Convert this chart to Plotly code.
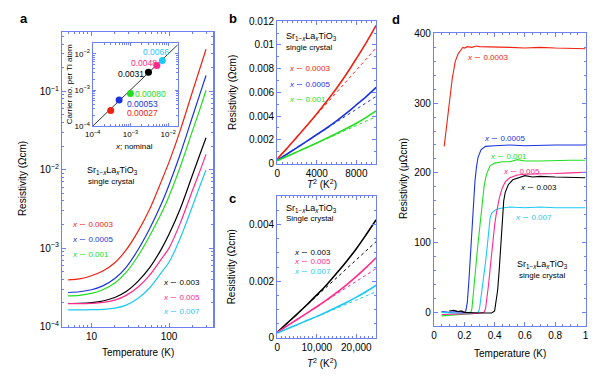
import plotly.graph_objects as go

W, H = 600, 381
FONT = "Liberation Sans, Arial, Helvetica, sans-serif"
FRAME = "#6f80f0"

RED, BLUE, GREEN, BLACK, MAG, CYAN = "#ee2211", "#1a33dd", "#22dd22", "#000000", "#ff2a8c", "#1ec8f5"

# ---------------- Panel a: resistivity vs temperature (log-log) ----------------
T_a = [5, 7, 10, 14, 20, 28, 40, 56, 80, 100, 140, 200, 250, 300]
rho_a_0003 = [3.94e-4, 4.05e-4, 4.45e-4, 5.1e-4, 6.5e-4, 9.5e-4, 1.65e-3, 3.1e-3, 7.2e-3, 1.25e-2, 3.2e-2, 9.8e-2, 1.95e-1, 3.43e-1]
rho_a_0005 = [2.72e-4, 2.78e-4, 2.95e-4, 3.3e-4, 4.1e-4, 5.7e-4, 9.6e-4, 1.75e-3, 3.7e-3, 6.4e-3, 1.6e-2, 4.7e-2, 9.2e-2, 1.59e-1]
rho_a_001 = [2.46e-4, 2.5e-4, 2.65e-4, 2.95e-4, 3.6e-4, 4.9e-4, 8.0e-4, 1.42e-3, 2.8e-3, 4.6e-3, 1.1e-2, 3.1e-2, 5.9e-2, 1.03e-1]
rho_a_003 = [1.97e-4, 1.98e-4, 2.02e-4, 2.12e-4, 2.35e-4, 2.8e-4, 3.8e-4, 5.6e-4, 9.8e-4, 1.5e-3, 3.2e-3, 8.5e-3, 1.56e-2, 2.55e-2]
rho_a_005 = [1.96e-4, 1.96e-4, 1.98e-4, 2.03e-4, 2.17e-4, 2.5e-4, 3.2e-4, 4.5e-4, 7.3e-4, 1.0e-3, 2.1e-3, 5.4e-3, 9.6e-3, 1.57e-2]
rho_a_007 = [1.63e-4, 1.63e-4, 1.64e-4, 1.66e-4, 1.72e-4, 1.88e-4, 2.3e-4, 3.1e-4, 4.9e-4, 6.6e-4, 1.35e-3, 3.4e-3, 6.2e-3, 9.9e-3]

# inset: carrier number vs nominal x
inset_nominal = [0.0003, 0.0005, 0.001, 0.003, 0.005, 0.007]
inset_carrier = [0.00027, 0.00053, 0.00080, 0.0031, 0.0048, 0.0066]
inset_labels = ["0.00027", "0.00053", "0.00080", "0.0031", "0.0048", "0.0066"]
guide_x = [1e-4, 1.8e-2]
guide_y = [1e-4, 1.8e-2]

# ---------------- Panel b: rho vs T^2 (x = 0.0003, 0.0005, 0.001) ----------------
T2_b = [0, 1000, 2000, 3000, 4000, 5000, 6000, 7000, 8000, 9000, 10000]
rho_b_0003 = [3.9e-4, 1.3e-3, 2.25e-3, 3.2e-3, 4.2e-3, 5.25e-3, 6.35e-3, 7.55e-3, 8.85e-3, 1.02e-2, 1.165e-2]
rho_b_0005 = [2.7e-4, 8.1e-4, 1.35e-3, 1.89e-3, 2.45e-3, 3.0e-3, 3.6e-3, 4.25e-3, 4.95e-3, 5.65e-3, 6.42e-3]
rho_b_001 = [2.45e-4, 6.15e-4, 9.85e-4, 1.36e-3, 1.74e-3, 2.13e-3, 2.53e-3, 2.95e-3, 3.4e-3, 3.9e-3, 4.44e-3]
fitT2_b = [0, 10000]
fit_b_0003 = [3.9e-4, 9.75e-3]
fit_b_0005 = [2.7e-4, 5.66e-3]
fit_b_001 = [2.45e-4, 3.95e-3]

# ---------------- Panel c: rho vs T^2 (x = 0.003, 0.005, 0.007) ----------------
T2_c = [0, 2500, 5000, 7500, 10000, 12500, 15000, 17500, 20000, 22500, 25000]
rho_c_003 = [2.0e-4, 5.2e-4, 8.4e-4, 1.17e-3, 1.52e-3, 1.88e-3, 2.28e-3, 2.7e-3, 3.15e-3, 3.65e-3, 4.17e-3]
rho_c_005 = [2.0e-4, 4.25e-4, 6.5e-4, 8.75e-4, 1.1e-3, 1.34e-3, 1.6e-3, 1.87e-3, 2.17e-3, 2.49e-3, 2.83e-3]
rho_c_007 = [1.7e-4, 3.2e-4, 4.65e-4, 6.15e-4, 7.6e-4, 9.15e-4, 1.08e-3, 1.25e-3, 1.44e-3, 1.64e-3, 1.86e-3]
fitT2_c = [0, 25000]
fit_c_003 = [2.0e-4, 3.4e-3]
fit_c_005 = [2.0e-4, 2.45e-3]
fit_c_007 = [1.7e-4, 1.63e-3]

# ---------------- Panel d: superconducting transitions ----------------
Td_0003 = [0.067, 0.08, 0.1, 0.12, 0.14, 0.16, 0.18, 0.19, 0.2, 0.22, 0.25, 0.28, 0.3, 0.35, 0.4, 0.45, 0.5, 0.6, 0.7, 0.8, 0.9, 1.0]
rd_0003 = [238, 262, 300, 335, 360, 371, 377, 380, 379, 381, 380, 382, 381, 381, 380, 381, 380, 379, 380, 379, 378, 378]
Td_0005 = [0.05, 0.1, 0.15, 0.2, 0.21, 0.22, 0.23, 0.24, 0.25, 0.26, 0.27, 0.28, 0.29, 0.31, 0.34, 0.4, 0.5, 0.6, 0.7, 0.8, 0.9, 1.0]
rd_0005 = [1, 0, 1, 0, 2, 15, 45, 85, 125, 160, 188, 208, 222, 233, 238, 239, 240, 239, 240, 240, 240, 240]
Td_001 = [0.05, 0.1, 0.15, 0.2, 0.24, 0.25, 0.26, 0.27, 0.28, 0.29, 0.3, 0.31, 0.32, 0.33, 0.34, 0.35, 0.37, 0.4, 0.45, 0.5, 0.55, 0.6, 0.7, 0.8, 0.9, 1.0]
rd_001 = [-5, -4, -4, -3, -2, 5, 25, 50, 75, 98, 120, 142, 162, 180, 192, 200, 210, 214, 216, 216, 219, 217, 217, 218, 218, 218]
Td_007 = [0.05, 0.1, 0.15, 0.2, 0.25, 0.29, 0.3, 0.31, 0.32, 0.33, 0.34, 0.35, 0.36, 0.37, 0.38, 0.4, 0.43, 0.5, 0.6, 0.7, 0.8, 0.9, 1.0]
rd_007 = [0, -1, -1, -2, -2, -1, 5, 20, 35, 52, 72, 92, 118, 135, 142, 146, 149, 151, 150, 151, 150, 150, 150]
Td_005 = [0.05, 0.1, 0.15, 0.2, 0.25, 0.3, 0.33, 0.34, 0.35, 0.36, 0.37, 0.38, 0.39, 0.4, 0.41, 0.42, 0.43, 0.45, 0.47, 0.5, 0.55, 0.6, 0.7, 0.8, 0.9, 1.0]
rd_005 = [-3, -3, -2, -2, -2, -1, 0, 5, 20, 40, 62, 85, 105, 125, 140, 152, 163, 178, 187, 193, 197, 198, 198, 199, 200, 201]
Td_003 = [0.1, 0.13, 0.16, 0.18, 0.2, 0.25, 0.3, 0.35, 0.38, 0.4, 0.41, 0.42, 0.43, 0.44, 0.45, 0.46, 0.47, 0.49, 0.52, 0.56, 0.6, 0.65, 0.7, 0.8, 0.9, 1.0]
rd_003 = [2, 3, 1, 2, 0, -1, -1, -1, -1, 2, 15, 32, 60, 100, 135, 160, 172, 183, 190, 193, 196, 194, 195, 194, 194, 193]


def px_x(p):
    return p / W


def px_y(p):
    return 1 - p / H


fig = go.Figure()

# panel a
for y, c in [(rho_a_0003, RED), (rho_a_0005, BLUE), (rho_a_001, GREEN),
             (rho_a_003, BLACK), (rho_a_005, MAG), (rho_a_007, CYAN)]:
    fig.add_trace(go.Scatter(x=T_a, y=y, mode="lines", line=dict(color=c, width=1.2, shape="spline", smoothing=0.8),
                             xaxis="x", yaxis="y", hoverinfo="skip"))
# inset
fig.add_trace(go.Scatter(x=guide_x, y=guide_y, mode="lines", line=dict(color="black", width=0.8),
                         xaxis="x2", yaxis="y2", hoverinfo="skip"))
fig.add_trace(go.Scatter(x=inset_nominal, y=inset_carrier, mode="markers",
                         marker=dict(color=[RED, BLUE, GREEN, BLACK, MAG, CYAN], size=7),
                         xaxis="x2", yaxis="y2", hoverinfo="skip"))
# panel b
for y, f, c in [(rho_b_0003, fit_b_0003, RED), (rho_b_0005, fit_b_0005, BLUE), (rho_b_001, fit_b_001, GREEN)]:
    fig.add_trace(go.Scatter(x=fitT2_b, y=f, mode="lines", line=dict(color=c, width=1, dash="dot"),
                             xaxis="x3", yaxis="y3", hoverinfo="skip"))
    fig.add_trace(go.Scatter(x=T2_b, y=y, mode="lines", line=dict(color=c, width=1.6, shape="spline"),
                             xaxis="x3", yaxis="y3", hoverinfo="skip"))
# panel c
for y, f, c in [(rho_c_003, fit_c_003, BLACK), (rho_c_005, fit_c_005, MAG), (rho_c_007, fit_c_007, CYAN)]:
    fig.add_trace(go.Scatter(x=fitT2_c, y=f, mode="lines", line=dict(color=c, width=1, dash="dot"),
                             xaxis="x4", yaxis="y4", hoverinfo="skip"))
    fig.add_trace(go.Scatter(x=T2_c, y=y, mode="lines", line=dict(color=c, width=1.6, shape="spline"),
                             xaxis="x4", yaxis="y4", hoverinfo="skip"))
# panel d
for x, y, c in [(Td_0003, rd_0003, RED), (Td_0005, rd_0005, BLUE), (Td_001, rd_001, GREEN),
                (Td_007, rd_007, CYAN), (Td_005, rd_005, MAG), (Td_003, rd_003, BLACK)]:
    fig.add_trace(go.Scatter(x=x, y=y, mode="lines", line=dict(color=c, width=1.1),
                             xaxis="x5", yaxis="y5", hoverinfo="skip"))


def axis(domain, anchor, **kw):
    d = dict(domain=domain, anchor=anchor, showline=True, linecolor=FRAME, linewidth=1.2, mirror="allticks",
             ticks="inside", ticklen=4, tickcolor=FRAME, tickwidth=1, showgrid=False, zeroline=False,
             tickfont=dict(size=10, color="black", family=FONT))
    d.update(kw)
    return d


def minor(vals, ln=2):
    return dict(ticks="inside", ticklen=ln, tickcolor=FRAME, tickvals=vals, showgrid=False)


dec_minor = lambda lo, hi: [m * 10 ** e for e in range(lo, hi) for m in range(2, 10)]

a_xminor = [5, 6, 7, 8, 9, 20, 30, 40, 50, 60, 70, 80, 90, 200, 300]
a_yminor = [v for v in dec_minor(-4, 0) if v < 0.56]
ins_minor = [v for v in dec_minor(-4, -1) if v < 0.019]

layout = dict(
    width=W, height=381, margin=dict(l=0, r=0, t=0, b=0), showlegend=False,
    plot_bgcolor="white", paper_bgcolor="white", font=dict(family=FONT, size=10, color="black"),
    xaxis=axis([px_x(55), px_x(209.3)], "y", type="log", range=[0.62, 2.573], tickmode="array",
               tickvals=[10, 100], ticktext=["10", "100"], minor=minor(a_xminor)),
    yaxis=axis([px_y(331), px_y(27.3)], "x", type="log", range=[-4, -0.25], tickmode="array",
               tickvals=[1e-4, 1e-3, 1e-2, 1e-1],
               ticktext=["10<sup>−4</sup>", "10<sup>−3</sup>", "10<sup>−2</sup>", "10<sup>−1</sup>"],
               minor=minor(a_yminor)),
    xaxis2=axis([px_x(86.3), px_x(172.8)], "y2", type="log", range=[-4, -1.75], tickmode="array",
                tickvals=[1e-4, 1e-3, 1e-2],
                ticktext=["10<sup>−4</sup>", "10<sup>−3</sup>", "10<sup>−2</sup>"],
                tickfont=dict(size=8, color="black", family=FONT), ticklen=3, minor=minor(ins_minor, 2)),
    yaxis2=axis([px_y(124), px_y(38.3)], "x2", type="log", range=[-4, -1.7], tickmode="array",
                tickvals=[1e-4, 1e-3, 1e-2],
                ticktext=["10<sup>−4</sup>", "10<sup>−3</sup>", "10<sup>−2</sup>"],
                tickfont=dict(size=8, color="black", family=FONT), ticklen=3, minor=minor(ins_minor, 2)),
    xaxis3=axis([px_x(274.3), px_x(375)], "y3", range=[0, 10000], tickmode="array",
                tickvals=[0, 4000, 8000], ticktext=["0", "4000", "8000"],
                minor=dict(ticks="inside", ticklen=2, tickcolor=FRAME, dtick=500, showgrid=False)),
    yaxis3=axis([px_y(162.7), px_y(15.7)], "x3", range=[0, 0.012], tickmode="array",
                tickvals=[0, 0.002, 0.004, 0.006, 0.008, 0.010, 0.012],
                ticktext=["0", "0.002", "0.004", "0.006", "0.008", "0.01", "0.012"],
                minor=dict(ticks="inside", ticklen=2, tickcolor=FRAME, dtick=0.001, showgrid=False)),
    xaxis4=axis([px_x(274.3), px_x(375)], "y4", range=[0, 25000], tickmode="array",
                tickvals=[0, 10000, 20000], ticktext=["0", "10,000", "20,000"],
                minor=dict(ticks="inside", ticklen=2, tickcolor=FRAME, dtick=1000, showgrid=False)),
    yaxis4=axis([px_y(342.7), px_y(196.5)], "x4", range=[0, 0.005], tickmode="array",
                tickvals=[0, 0.002, 0.004], ticktext=["0", "0.002", "0.004"],
                minor=dict(ticks="inside", ticklen=2, tickcolor=FRAME, dtick=0.0005, showgrid=False)),
    xaxis5=axis([px_x(434), px_x(588.3)], "y5", range=[0, 1], tickmode="array",
                tickvals=[0, 0.2, 0.4, 0.6, 0.8, 1.0], ticktext=["0", "0.2", "0.4", "0.6", "0.8", "1"],
                minor=dict(ticks="inside", ticklen=2, tickcolor=FRAME, dtick=0.05, showgrid=False)),
    yaxis5=axis([px_y(330.7), px_y(28.3)], "x5", range=[-20, 400], tickmode="array",
                tickvals=[0, 100, 200, 300, 400], ticktext=["0", "100", "200", "300", "400"],
                minor=dict(ticks="inside", ticklen=2, tickcolor=FRAME, dtick=20, tick0=0, showgrid=False)),
)
fig.update_layout(**layout)

SR = "Sr<sub>1−<i>x</i></sub>La<sub><i>x</i></sub>TiO<sub>3</sub>"
anns = []


def ann(text, px, py, color="black", size=9, xa="left", angle=0, bold=False):
    if bold:
        text = "<b>" + text + "</b>"
    anns.append(dict(text=text, x=px_x(px), y=px_y(py), xref="paper", yref="paper", showarrow=False,
                     xanchor=xa, yanchor="middle", textangle=angle,
                     font=dict(size=size, color=color, family=FONT)))


# panel letters
ann("a", 10, 13, size=13, bold=True)
ann("b", 223, 13, size=13, bold=True)
ann("c", 223, 199, size=13, bold=True)
ann("d", 389, 14, size=13, bold=True)

# axis titles
ann("Temperature (K)", 132, 358, size=10, xa="center")
ann("Resistivity (Ωcm)", 15, 178, size=10, xa="center", angle=-90)
ann("Resistivity (Ωcm)", 228, 89, size=10, xa="center", angle=-90)
ann("Resistivity (Ωcm)", 228, 269, size=10, xa="center", angle=-90)
ann("<i>T</i><sup>2</sup> (K<sup>2</sup>)", 320, 184, size=10, xa="center")
ann("<i>T</i><sup>2</sup> (K<sup>2</sup>)", 320, 369, size=10, xa="center")
ann("Temperature (K)", 511, 359, size=10, xa="center")
ann("Resistivity (μΩcm)", 403, 178, size=10, xa="center", angle=-90)

# inset titles
ann("<i>x</i>; nominal", 128, 145, size=8, xa="center")
ann("Carrier no. per Ti atom", 63, 81, size=8, xa="center", angle=-90)

# inset value labels
inset_pos = [(119.3, 110.7), (119.3, 100.7), (127.5, 90.7), (110, 70), (123, 59), (135, 47.3)]
for lab, (lx, ly), c in zip(inset_labels, inset_pos, [RED, BLUE, GREEN, BLACK, MAG, CYAN]):
    ann(lab, lx, ly, color=c, size=8.5)

# panel a text
ann(SR, 78, 170)
ann("single crystal", 79, 181.5, size=8)
ann("<i>x</i> ∼ 0.0003", 63, 226, RED, 8)
ann("<i>x</i> ∼ 0.0005", 63, 241, BLUE, 8)
ann("<i>x</i> ∼ 0.001", 63, 256.5, GREEN, 8)
ann("<i>x</i> ∼ 0.003", 156, 285.7, BLACK, 8)
ann("<i>x</i> ∼ 0.005", 156, 300.7, MAG, 8)
ann("<i>x</i> ∼ 0.007", 156, 315.7, CYAN, 8)

# panel b text
ann(SR, 281, 32)
ann("single crystal", 281, 42.5, size=8)
ann("<i>x</i> ∼ 0.0003", 284, 65, RED, 8)
ann("<i>x</i> ∼ 0.0005", 284, 80.7, BLUE, 8)
ann("<i>x</i> ∼ 0.001", 284, 96.7, GREEN, 8)

# panel c text
ann(SR, 280.7, 209)
ann("Single crystal", 280.7, 219, size=8)
ann("<i>x</i> ∼ 0.003", 289, 254, BLACK, 8)
ann("<i>x</i> ∼ 0.005", 289, 264, MAG, 8)
ann("<i>x</i> ∼ 0.007", 289, 274, CYAN, 8)

# panel d text
ann("<i>x</i> ∼ 0.0003", 465.7, 52.7, RED, 8)
ann("<i>x</i> ∼ 0.0005", 483, 136.7, BLUE, 8)
ann("<i>x</i> ∼ 0.001", 489, 155.7, GREEN, 8)
ann("<i>x</i> ∼ 0.005", 502.7, 171, MAG, 8)
ann("<i>x</i> ∼ 0.003", 520, 187.5, BLACK, 8)
ann("<i>x</i> ∼ 0.007", 514, 218.3, CYAN, 8)
ann(SR, 544, 267, xa="center")
ann("single crystal", 544, 278, xa="center", size=8)

fig.update_layout(annotations=anns)
fig.write_html("out.html", config={"displayModeBar": False, "staticPlot": True},
               post_script="document.body.style.margin='0';document.body.style.padding='0';")
